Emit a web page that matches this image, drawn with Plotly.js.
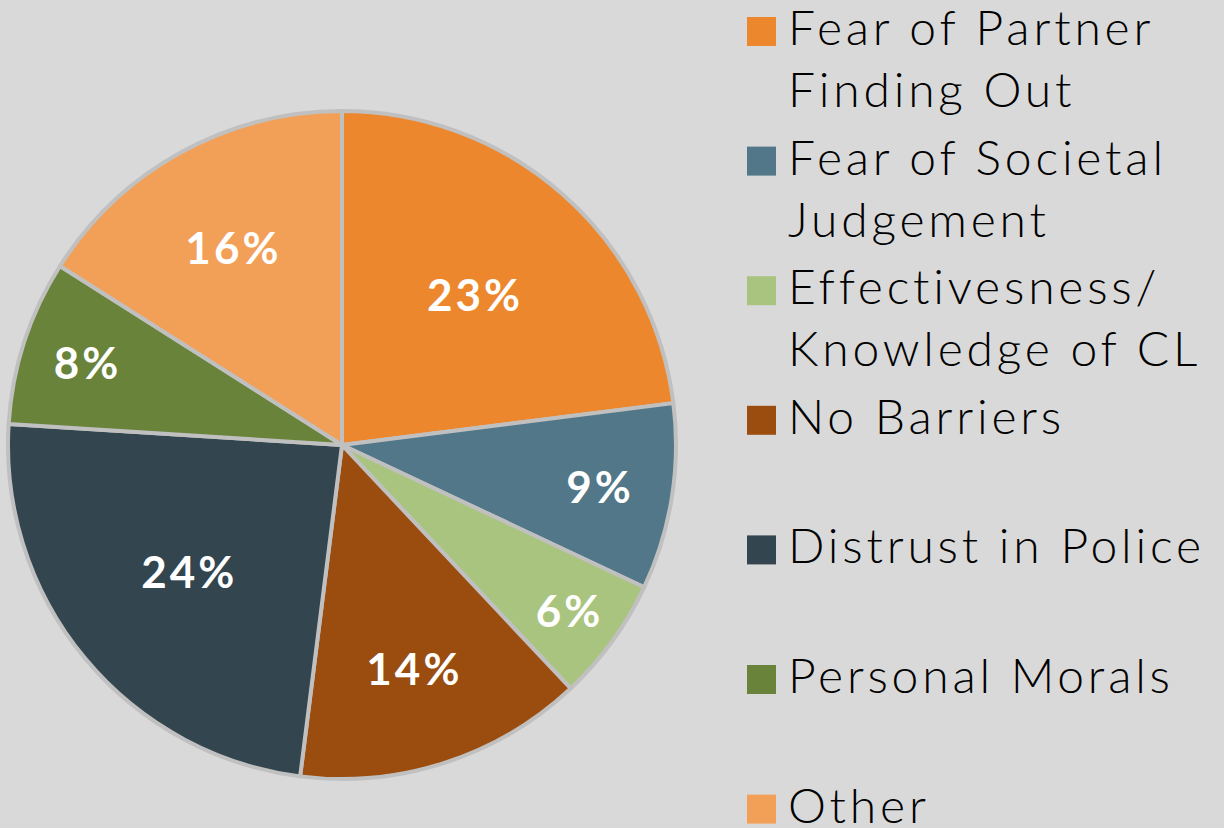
<!DOCTYPE html>
<html>
<head>
<meta charset="utf-8">
<script src="https://cdn.plot.ly/plotly-3.0.1.min.js"></script>
<style>
html,body{margin:0;padding:0;background:#d9d9d9;}
#chart{width:1224px;height:828px;}
#chart .annotation-text{letter-spacing:3.8px;}
#chart .slicetext{letter-spacing:3px;}
</style>
</head>
<body>
<div id="chart"></div>
<script>
const labels = [
  "Fear of Partner<br>Finding Out",
  "Fear of Societal<br>Judgement",
  "Effectivesness/<br>Knowledge of CL",
  "No Barriers",
  "Distrust in Police",
  "Personal Morals",
  "Other"
];
const values = [23, 9, 6, 14, 24, 8, 16];
const colors = ["#ED872D", "#527788", "#A9C47F", "#9A4D0E", "#33454F", "#6A833B", "#F2A057"];

const W = 1224, H = 828;
const trace = {
  type: "pie",
  labels: labels,
  values: values,
  sort: false,
  direction: "clockwise",
  rotation: 0,
  marker: {colors: colors, line: {color: "#c0c0c0", width: 4}},
  texttemplate: "%{value}%",
  textposition: "inside",
  insidetextorientation: "horizontal",
  textfont: {family: "Lato, 'Open Sans', sans-serif", size: 44, color: "#ffffff", weight: 700},
  hoverinfo: "label+percent",
  showlegend: false,
  domain: {x: [(342 - 334) / W, (342 + 334) / W], y: [(383 - 334) / H, (383 + 334) / H]}
};

// custom legend built from labels/colors
const step = 129.6, top0 = 17, box = 29;
const shapes = [], annotations = [];
labels.forEach((lab, i) => {
  const t = top0 + i * step;
  shapes.push({
    type: "rect", xref: "paper", yref: "paper",
    x0: 747 / W, x1: (747 + box) / W,
    y0: 1 - (t + box) / H, y1: 1 - t / H,
    fillcolor: colors[i], line: {width: 0}
  });
  annotations.push({
    xref: "paper", yref: "paper",
    x: 786 / W, y: 1 - (t - 21) / H,
    xanchor: "left", yanchor: "top", align: "left",
    text: lab, showarrow: false,
    font: {family: "Lato, 'Open Sans', sans-serif", size: 48, color: "#000000", weight: 300}
  });
});

const layout = {
  width: W, height: H,
  margin: {l: 0, r: 0, t: 0, b: 0},
  paper_bgcolor: "#d9d9d9",
  plot_bgcolor: "#d9d9d9",
  showlegend: false,
  shapes: shapes,
  annotations: annotations
};
Plotly.newPlot("chart", [trace], layout, {displayModeBar: false, staticPlot: true});
</script>
</body>
</html>
